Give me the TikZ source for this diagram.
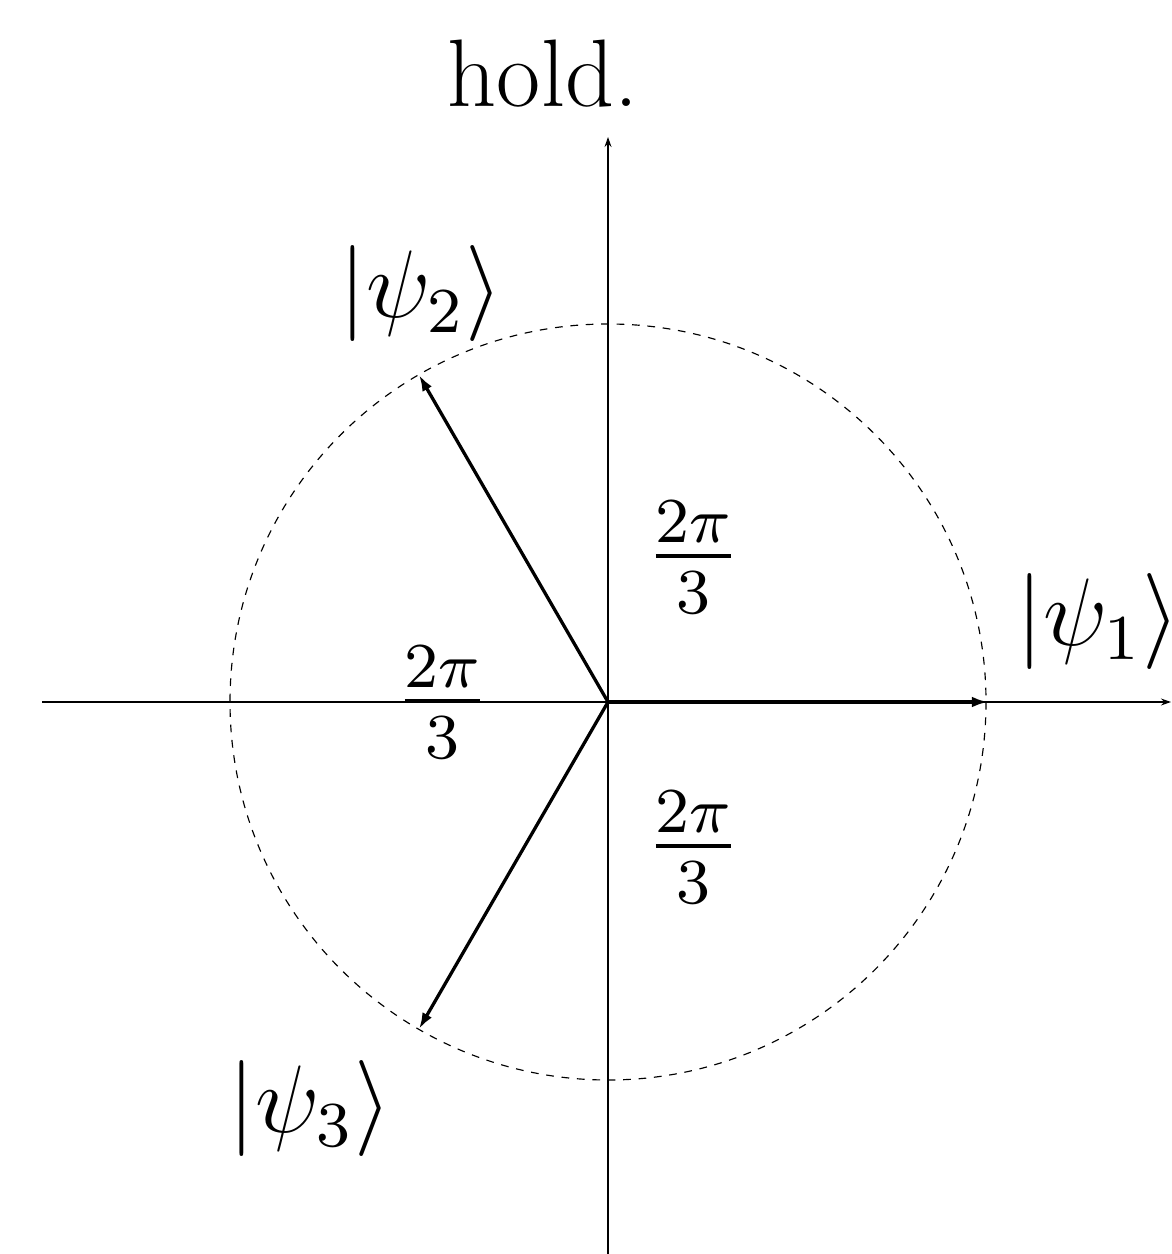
\documentclass[tikz,border=0pt]{standalone}
\usepackage{amsmath}
\usepackage{graphicx}
\usetikzlibrary{arrows.meta}
\newcommand{\bigmath}[1]{\scalebox{2.0733}{\fontsize{12}{14}\selectfont$#1$}}
\begin{document}
\begin{tikzpicture}[x=0.2592pt,y=-0.2592pt,
  axisline/.style={line width=0.4pt,-{Stealth[length=2.6pt,width=1.8pt]}},
  vecline/.style={line width=0.85pt,-{Latex[length=4.2pt,width=2.8pt]}},
  circline/.style={line width=0.3pt,dash pattern=on 2pt off 2pt},
  biglabel/.style={inner sep=0pt,anchor=base},
  titlelabel/.style={inner sep=0pt,anchor=base,font=\fontsize{24.88}{30}\selectfont}]
\useasboundingbox (0,0) rectangle (1171,1254);
\coordinate (O) at (608,702);
\coordinate (xl) at (42,702);
\coordinate (xr) at (1171,702);
\coordinate (yb) at (608,1254);
\coordinate (yt) at (608,137);
\coordinate (p1) at (988,702);
\coordinate (p2) at (419,375);
\coordinate (p3) at (419,1029);
\draw[circline] (O) circle[radius=378];
\draw[axisline] (xl) -- (xr);
\draw[axisline] (yb) -- (yt);
\draw[vecline] (O) -- (p1);
\draw[vecline] (O) -- (p2);
\draw[vecline] (O) -- (p3);
\node[titlelabel] (title) at (543,107) {hold.};
\node[biglabel] (l1) at (1098,645) {\bigmath{|\psi_1\rangle}};
\node[biglabel] (l2) at (421,318) {\bigmath{|\psi_2\rangle}};
\node[biglabel] (l3) at (310,1132) {\bigmath{|\psi_3\rangle}};
\node[biglabel] (f1) at (693.5,580) {\bigmath{\frac{2\pi}{3}}};
\node[biglabel] (f2) at (442.5,725) {\bigmath{\frac{2\pi}{3}}};
\node[biglabel] (f3) at (693.5,870) {\bigmath{\frac{2\pi}{3}}};
\end{tikzpicture}
\end{document}
